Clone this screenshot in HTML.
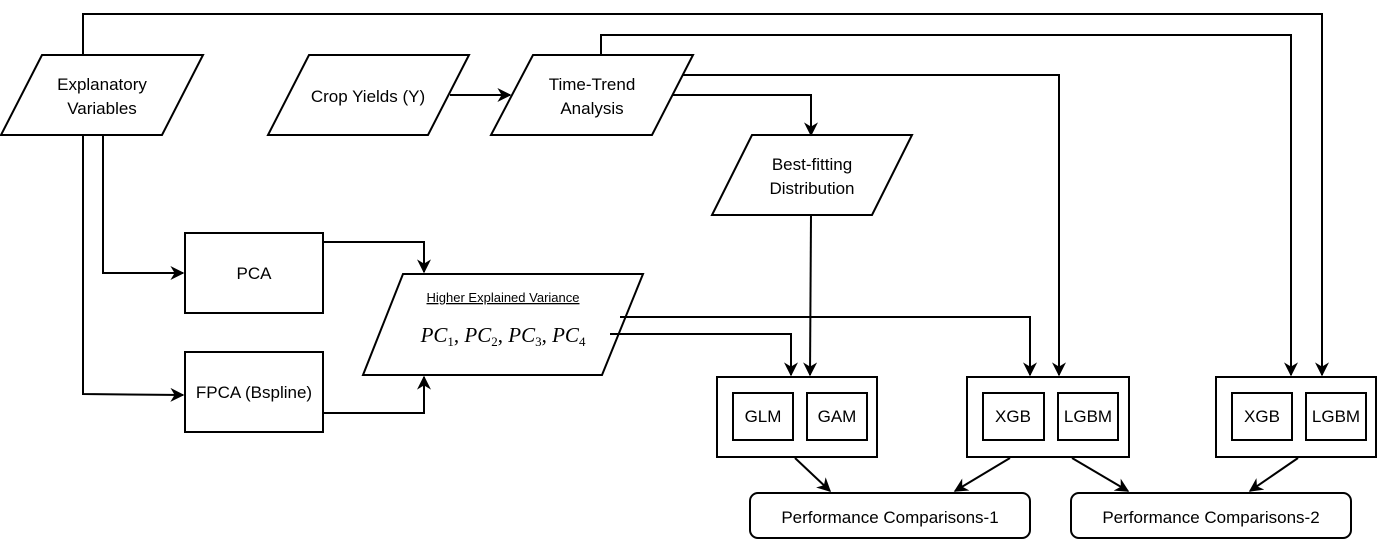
<!DOCTYPE html>
<html><head><meta charset="utf-8"><style>
body{margin:0;background:#fff;}
svg{display:block;font-family:"Liberation Sans",Arial,sans-serif;}
</style></head><body>
<svg width="1384" height="540" viewBox="0 0 1384 540" xmlns="http://www.w3.org/2000/svg">
<defs>
<marker id="a" viewBox="0 0 10 10" refX="9" refY="5" markerWidth="16" markerHeight="14" orient="auto" markerUnits="userSpaceOnUse">
<path d="M0,0 L10,5 L0,10 L3,5 z" fill="#000"/>
</marker>
</defs>
<g fill="none" stroke="#000" stroke-width="2">
<polygon points="42,55 203,55 162,135 1,135" fill="#fff"/>
<polygon points="309,55 469,55 428,135 268,135" fill="#fff"/>
<polygon points="533,55 693,55 652,135 491,135" fill="#fff"/>
<polygon points="752,135 912,135 872,215 712,215" fill="#fff"/>
<polygon points="403,274 643,274 602,375 363,375" fill="#fff"/>
<rect x="185" y="233" width="138" height="80"/>
<rect x="185" y="352" width="138" height="80"/>
<rect x="717" y="377" width="160" height="80"/>
<rect x="733" y="393" width="60" height="47"/>
<rect x="807" y="393" width="60" height="47"/>
<rect x="967" y="377" width="162" height="80"/>
<rect x="983" y="393" width="61" height="47"/>
<rect x="1058" y="393" width="60" height="47"/>
<rect x="1216" y="377" width="160" height="80"/>
<rect x="1232" y="393" width="60" height="47"/>
<rect x="1306" y="393" width="60" height="47"/>
<rect x="750" y="493" width="280" height="45" rx="8"/>
<rect x="1071" y="493" width="280" height="45" rx="8"/>
<polyline points="450,95 510,95" marker-end="url(#a)"/>
<polyline points="83,55 83,14 1322,14 1322,375" marker-end="url(#a)"/>
<polyline points="601,55 601,35 1291,35 1291,375" marker-end="url(#a)"/>
<polyline points="683,75 1059,75 1059,375" marker-end="url(#a)"/>
<polyline points="673,95 811,95 811,135" marker-end="url(#a)"/>
<polyline points="811,215 810,375" marker-end="url(#a)"/>
<polyline points="103,135 103,273 183,273" marker-end="url(#a)"/>
<polyline points="83,135 83,394 183,395" marker-end="url(#a)"/>
<polyline points="323,242 424,242 424,272" marker-end="url(#a)"/>
<polyline points="323,413 424,413 424,377" marker-end="url(#a)"/>
<polyline points="620,317 1030,317 1030,375" marker-end="url(#a)"/>
<polyline points="610,334 791,334 791,375" marker-end="url(#a)"/>
<polyline points="795,458 830,491" marker-end="url(#a)"/>
<polyline points="1010,458 955,491" marker-end="url(#a)"/>
<polyline points="1072,458 1128,491" marker-end="url(#a)"/>
<polyline points="1298,458 1250,491" marker-end="url(#a)"/>
</g>
<g font-size="17" text-anchor="middle" fill="#000">
<text x="102" y="90">Explanatory</text>
<text x="102" y="114">Variables</text>
<text x="368" y="102">Crop Yields (Y)</text>
<text x="592" y="90">Time-Trend</text>
<text x="592" y="114">Analysis</text>
<text x="812" y="170">Best-fitting</text>
<text x="812" y="194">Distribution</text>
<text x="254" y="279">PCA</text>
<text x="254" y="398">FPCA (Bspline)</text>
<text x="763" y="422">GLM</text>
<text x="837" y="422">GAM</text>
<text x="1013" y="422">XGB</text>
<text x="1088" y="422">LGBM</text>
<text x="1262" y="422">XGB</text>
<text x="1336" y="422">LGBM</text>
<text x="890" y="523">Performance Comparisons-1</text>
<text x="1211" y="523">Performance Comparisons-2</text>
<text x="503" y="302" font-size="13" text-decoration="underline">Higher Explained Variance</text>
<text x="503" y="342" font-size="21" font-family="Liberation Serif,serif" font-style="italic">PC<tspan font-size="13" font-style="normal" dy="4">1</tspan><tspan dy="-4" font-style="normal">, </tspan>PC<tspan font-size="13" font-style="normal" dy="4">2</tspan><tspan dy="-4" font-style="normal">, </tspan>PC<tspan font-size="13" font-style="normal" dy="4">3</tspan><tspan dy="-4" font-style="normal">, </tspan>PC<tspan font-size="13" font-style="normal" dy="4">4</tspan></text>
</g>
</svg>
</body></html>
